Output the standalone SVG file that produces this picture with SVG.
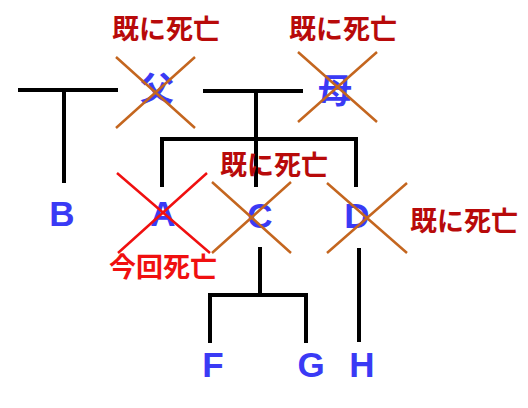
<svg xmlns="http://www.w3.org/2000/svg" width="528" height="408" viewBox="0 0 528 408">
<style>
.ln{stroke:#000;stroke-width:4;fill:none;stroke-linecap:butt}
.xo{stroke:#c4661f;stroke-width:2.5}
.xr{stroke:#f01010;stroke-width:2.5}
.nm{font-family:"Liberation Sans",Arial,sans-serif;font-weight:bold;font-size:35px;fill:#3a3af5;text-anchor:middle}
.kj{font-family:"Noto Sans CJK JP",sans-serif;font-weight:bold;font-size:34px;fill:#3a3af5;text-anchor:middle}
.lb{font-family:"Noto Sans CJK JP",sans-serif;font-weight:bold;font-size:27px;fill:#b80a0a;text-anchor:middle}
.lr{fill:#f01010}
</style>
<rect width="528" height="408" fill="#fff"/>
<g id="connectors">
<path class="ln" d="M18 90H118M64 90V183"/>
<path class="ln" d="M203 91H303M256 91V187"/>
<path class="ln" d="M160 139H358M162 139V187M356 139V187"/>
<path class="ln" d="M260 247V295M208 295H308M210 295V343M306 295V343"/>
<path class="ln" d="M359 248V342"/>
</g>
<g id="father">
<text class="kj" x="157" y="101">父</text>
<path class="xo" d="M116 57L195 128M195 57L116 128"/>
<text class="lb" x="166" y="39">既に死亡</text>
</g>
<g id="mother">
<text class="kj" x="335" y="103">母</text>
<path class="xo" d="M298 52L377 122M377 52L298 122"/>
<text class="lb" x="343" y="39">既に死亡</text>
</g>
<g id="B"><text class="nm" x="62" y="226">B</text></g>
<g id="A">
<text class="nm" x="163" y="226">A</text>
<path class="xr" d="M117 173L210 253M207 173L118 253"/>
<text class="lb lr" x="163" y="277">今回死亡</text>
</g>
<g id="C">
<text class="nm" x="260" y="228">C</text>
<path class="xo" d="M212 182L291 253M291 182L212 253"/>
<text class="lb" x="274" y="175">既に死亡</text>
</g>
<g id="D">
<text class="nm" x="357" y="228">D</text>
<path class="xo" d="M327 183L407 253M407 183L327 253"/>
<text class="lb" x="464" y="231">既に死亡</text>
</g>
<g id="F"><text class="nm" x="213" y="377">F</text></g>
<g id="G"><text class="nm" x="311" y="377">G</text></g>
<g id="H"><text class="nm" x="362" y="377">H</text></g>
</svg>
